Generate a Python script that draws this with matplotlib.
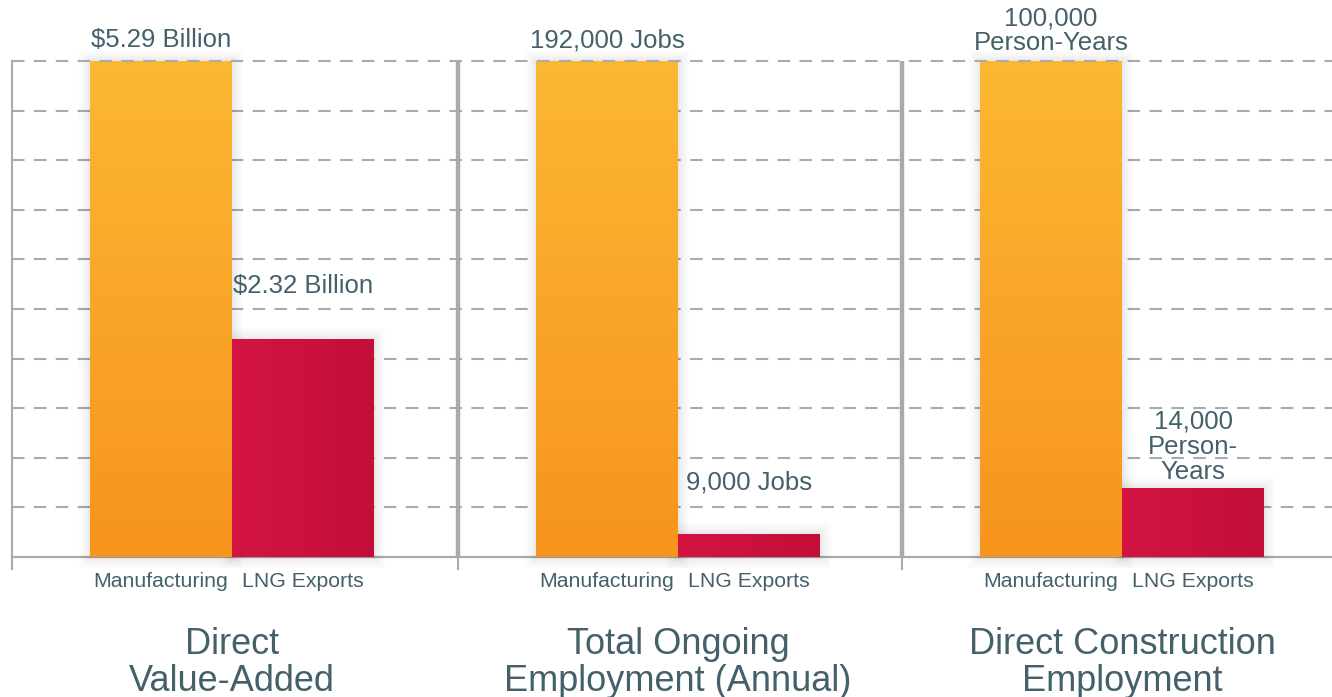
import numpy as np
import matplotlib
matplotlib.use("Agg")
import matplotlib.pyplot as plt
from matplotlib.colors import to_rgb
from matplotlib import patheffects as pe
from matplotlib.lines import Line2D
import matplotlib.transforms as mtransforms

# ---------------- data ----------------
panel_titles = ["Direct\nValue-Added",
                "Total Ongoing\nEmployment (Annual)",
                "Direct Construction\nEmployment"]
categories = ["Manufacturing", "LNG Exports"]
manufacturing = [5.29, 192000, 100000]
lng_exports = [2.32, 9000, 14000]
labels_mfg = ["$5.29 Billion", "192,000 Jobs", "100,000\nPerson-Years"]
labels_lng = ["$2.32 Billion", "9,000 Jobs", "14,000\nPerson-\nYears"]

# ---------------- style ----------------
plt.rcParams["font.family"] = ["Liberation Sans", "DejaVu Sans"]
TEXT = "#44606a"
GRID = "#a7abae"
ORANGE_TOP, ORANGE_BOT = "#fcb832", "#f7941e"
RED_L, RED_R = "#d41443", "#c20f38"

W, H = 1332, 697
DPI = 100
PX = 72.0 / DPI  # points per pixel
fig = plt.figure(figsize=(W / DPI, H / DPI), dpi=DPI)

top_px, base_px = 61, 557
plot_h = base_px - top_px
panel_lefts = [12, 458, 902]
panel_w = 445
bar_w_px = 142.0
xlim = (-1.55, -1.55 + panel_w / bar_w_px)
# vertical gap (px) from bar top to baseline of the last label line
gap_mfg = [14, 14, 11]
gap_lng = [47, 45, 9]
VAL_FS = 18.5


def fy(py):
    return 1 - py / H


# background axes in pixel coordinates (grid, baseline, separators)
bg = fig.add_axes([12 / W, fy(base_px), (W - 12) / W, plot_h / H], zorder=0)
bg.set_xlim(12, W)
bg.set_ylim(base_px, top_px)
bg.axis("off")
for k in range(1, 10):
    y = top_px + k * plot_h / 10
    bg.plot([12, W], [y, y], color=GRID, lw=1.5, ls=(0, (6, 4.5)),
            solid_capstyle="butt", dash_capstyle="butt", clip_on=False)
bg.plot([12, W], [base_px, base_px], color=GRID, lw=1.6, clip_on=False)
bg.plot([12, 12], [top_px, base_px + 12], color=GRID, lw=1.5, clip_on=False)
for xs in panel_lefts[1:]:
    bg.plot([xs, xs], [top_px, base_px], color=GRID, lw=3.2,
            solid_capstyle="butt", clip_on=False)
    bg.plot([xs, xs], [base_px, base_px + 12], color=GRID, lw=1.5,
            clip_on=False)

# top dashed gridline drawn above the bars
fig.add_artist(Line2D([12 / W, 1.0], [fy(top_px), fy(top_px)], color=GRID,
                      lw=1.5, ls=(0, (6, 4.5)), dash_capstyle="butt",
                      transform=fig.transFigure, zorder=10))

shadow = [pe.Stroke(linewidth=w, foreground="#000000", alpha=0.016)
          for w in (16, 12, 8, 5, 3)] + [pe.Normal()]

o_top, o_bot = np.array(to_rgb(ORANGE_TOP)), np.array(to_rgb(ORANGE_BOT))
r_l, r_r = np.array(to_rgb(RED_L)), np.array(to_rgb(RED_R))
t = np.linspace(0, 1, 256)
grad_orange = (o_bot[None, :] * (1 - t[:, None]) + o_top[None, :] * t[:, None])[:, None, :]
grad_red = (r_l[None, :] * (1 - t[:, None]) + r_r[None, :] * t[:, None])[None, :, :]

for i in range(3):
    ax = fig.add_axes([panel_lefts[i] / W, fy(base_px), panel_w / W, plot_h / H],
                      zorder=2)
    ax.patch.set_alpha(0)
    vals = [manufacturing[i], lng_exports[i]]
    vmax = max(vals)
    xpos = [-0.5, 0.5]
    bars = ax.bar(xpos, vals, width=1.0, color=[ORANGE_BOT, RED_R],
                  linewidth=0, zorder=2, clip_on=False)
    for b, grad in zip(bars, [grad_orange, grad_red]):
        b.set_path_effects(shadow)
        x0, w_, h_ = b.get_x(), b.get_width(), b.get_height()
        im = ax.imshow(grad, extent=(x0, x0 + w_, 0, h_), origin="lower",
                       aspect="auto", interpolation="bilinear", zorder=3)
        im.set_clip_path(b)
    ax.set_xlim(*xlim)
    ax.set_ylim(0, vmax)
    for s in ax.spines.values():
        s.set_visible(False)
    ax.set_yticks([])
    ax.set_xticks(xpos, categories)
    ax.tick_params(axis="x", length=0, pad=11, labelsize=15.3, labelcolor=TEXT)

    # value labels
    for x, v, lab, g in [(xpos[0], vals[0], labels_mfg[i], gap_mfg[i]),
                         (xpos[1], vals[1], labels_lng[i], gap_lng[i])]:
        desc = 0.21 * VAL_FS / PX
        ax.annotate(lab, xy=(x, v), xytext=(0, (g - desc) * PX),
                    textcoords="offset points", ha="center", va="bottom",
                    fontsize=VAL_FS, color=TEXT, linespacing=1.06,
                    annotation_clip=False, zorder=5)

    # panel title
    trans = mtransforms.blended_transform_factory(ax.transData, fig.transFigure)
    ax.text(0, fy(627), panel_titles[i], transform=trans, ha="center",
            va="top", fontsize=26, color=TEXT, linespacing=1.08)

fig.savefig("out.png", dpi=DPI)
